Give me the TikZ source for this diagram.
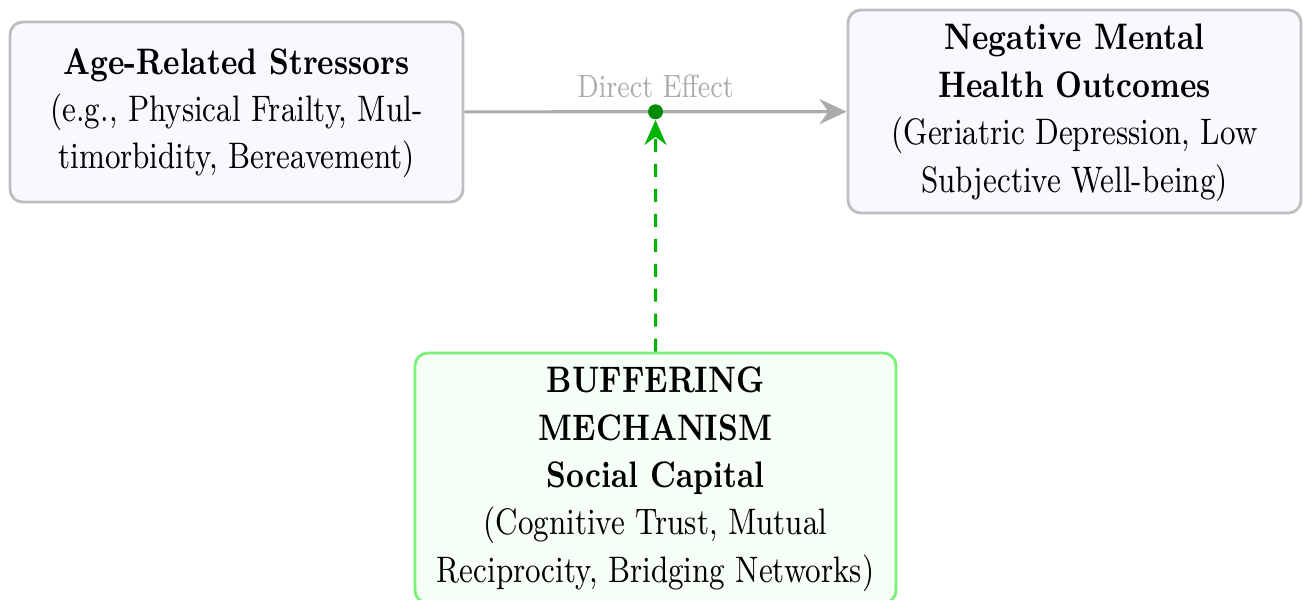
\documentclass[tikz,border=0pt]{standalone}
\usetikzlibrary{arrows.meta,positioning}
\definecolor{boxgray}{HTML}{BEBEBE}
\definecolor{boxfill}{HTML}{F8F8FF}
\definecolor{bufline}{HTML}{7AF07A}
\definecolor{buffill}{HTML}{F6FFF6}
\definecolor{modgreen}{HTML}{00B400}
\definecolor{dotgreen}{HTML}{008C00}
\definecolor{effgray}{HTML}{ABABAB}
% text is set a little tall, as in the plan
\newcommand{\tallrows}[1]{\scalebox{1}[1.22]{\begin{tabular}{@{}c@{}}#1\end{tabular}}}

\begin{document}
\begin{tikzpicture}[box/.style={draw=boxgray,fill=boxfill,line width=.8pt,rounded corners=3.6pt,inner sep=0pt,font=\fontsize{8.6}{11.05}\selectfont},
  bufbox/.style={box,draw=bufline,fill=buffill}]
\useasboundingbox (0,0) rectangle (13.03,-5.99);
\node[box,minimum width=4.53cm,minimum height=1.8cm] (stress) at (2.365,-1.12){\tallrows{\textbf{Age-Related Stressors}\\(e.g., Physical Frailty, Mul-\\timorbidity, Bereavement)}};
\node[box,minimum width=4.53cm,minimum height=2.03cm] (outcome) at (10.745,-1.115){\tallrows{\textbf{Negative Mental}\\\textbf{Health Outcomes}\\(Geriatric Depression, Low\\Subjective Well-being)}};
\node[bufbox,minimum width=4.81cm,minimum height=2.5cm] (buffer) at (6.555,-4.78){\tallrows{\textbf{BUFFERING}\\\textbf{MECHANISM}\\\textbf{Social Capital}\\(Cognitive Trust, Mutual\\Reciprocity, Bridging Networks)}};
\draw[effgray,line width=.9pt,-{Stealth[length=2.7mm,width=2.5mm]}] (stress) -- (outcome) coordinate[midway] (mid);
\node[effgray,font=\fontsize{7.5}{9}\selectfont,above=0.1cm of mid,inner sep=1pt] (efflabel) {\scalebox{1}[1.22]{Direct Effect}};
\node[circle,fill=dotgreen,inner sep=0pt,minimum size=.15cm] (dot) at (mid) {};
\draw[modgreen,line width=.85pt,dash pattern=on 3.7pt off 3.4pt,-{Stealth[length=2.5mm,width=2.2mm]}] (buffer.north) -- (dot);
\end{tikzpicture}
\end{document}
